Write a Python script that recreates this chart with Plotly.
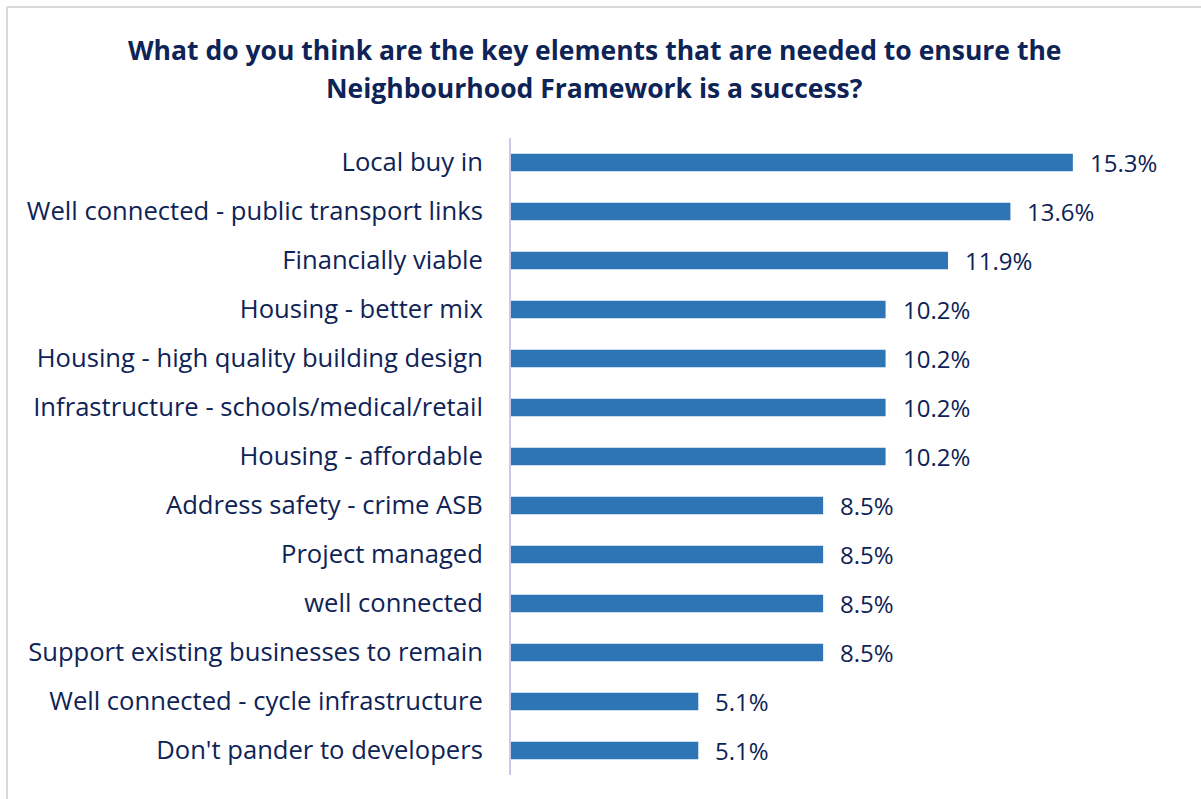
import plotly.graph_objects as go

categories = [
    "Local buy in",
    "Well connected - public transport links",
    "Financially viable",
    "Housing - better mix",
    "Housing - high quality building design",
    "Infrastructure - schools/medical/retail",
    "Housing - affordable",
    "Address safety - crime ASB",
    "Project managed",
    "well connected",
    "Support existing businesses to remain",
    "Well connected - cycle infrastructure",
    "Don't pander to developers",
]
values = [15.3, 13.6, 11.9, 10.2, 10.2, 10.2, 10.2, 8.5, 8.5, 8.5, 8.5, 5.1, 5.1]
value_labels = [f"{v:.1f}%" for v in values]

title_lines = [
    "What do you think are the key elements that are needed to ensure the",
    "Neighbourhood Framework is a success?",
]

NAVY = "#0E2356"
BAR = "#2E75B6"
FONT = "Open Sans"

fig = go.Figure(
    go.Bar(
        x=values,
        y=categories,
        orientation="h",
        marker=dict(color=BAR, line=dict(width=0)),
        width=0.36,
        hoverinfo="skip",
    )
)

for cat, v, lab in zip(categories, values, value_labels):
    fig.add_annotation(
        x=v, y=cat, text=lab, showarrow=False,
        xanchor="left", yanchor="middle", xshift=15,
        font=dict(family=FONT, size=24, color=NAVY),
    )

W, H = 1201, 799
ml, mr, mt, mb = 511, 29, 138, 24
pw, ph = W - ml - mr, H - mt - mb

# two-line bold title, centred over the chart
for line, yc in zip(title_lines, [50, 88]):
    fig.add_annotation(
        text=f"<b>{line}</b>", showarrow=False,
        xref="paper", yref="paper",
        x=(594 - ml) / pw, y=(H - mb - yc) / ph,
        xanchor="center", yanchor="middle",
        font=dict(family=FONT, size=26.5, color=NAVY),
    )

# light grey frame around the chart area (top and left edges)
fx = (7 - ml) / pw
fy = (H - mb - 7) / ph
fig.add_shape(type="line", xref="paper", yref="paper", x0=fx, x1=2, y0=fy, y1=fy,
              line=dict(color="#D9D9D9", width=2))
fig.add_shape(type="line", xref="paper", yref="paper", x0=fx, x1=fx, y0=-1, y1=fy,
              line=dict(color="#D9D9D9", width=2))

fig.update_layout(
    width=W, height=H,
    margin=dict(l=ml, r=mr, t=mt, b=mb, pad=0),
    paper_bgcolor="white", plot_bgcolor="white",
    showlegend=False,
    xaxis=dict(range=[0, 18], visible=False, fixedrange=True),
    yaxis=dict(
        autorange="reversed", showgrid=False, zeroline=False,
        showline=True, linecolor="#C9C9EE", linewidth=2,
        ticks="", ticklabelstandoff=21,
        tickfont=dict(family=FONT, size=25.6, color=NAVY),
    ),
    bargap=0.64,
)

fig.write_html("out.html")
